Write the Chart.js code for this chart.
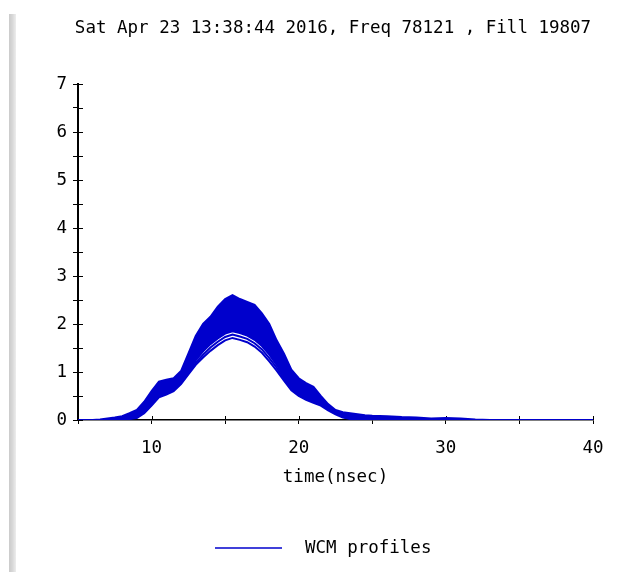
<!DOCTYPE html>
<html>
<head>
<meta charset="utf-8">
<script src="https://cdn.jsdelivr.net/npm/chart.js@4/dist/chart.umd.min.js"></script>
<style>
  html, body { margin: 0; padding: 0; background: #fff; }
  #wrap { position: relative; width: 644px; height: 572px; }
  #edge { position: absolute; left: 9px; top: 14px; width: 7px; height: 558px;
          background: linear-gradient(to right, #cbcbcb, #d6d6d6 45%, #ededed); }
  canvas { position: absolute; left: 0; top: 0; }
</style>
</head>
<body>
<div id="wrap"><div id="edge"></div><canvas id="c" width="644" height="572"></canvas></div>
<script>
// Sample times (ns) shared by all profiles
const timeNs = [5, 6, 6.5, 7, 7.5, 8, 8.5, 9, 9.5, 10,
  10.5, 11, 11.5, 12, 12.5, 13, 13.5, 14, 14.5, 15,
  15.5, 16, 16.5, 17, 17.5, 18, 18.5, 19, 19.5, 20,
  20.5, 21, 21.5, 22, 22.5, 23, 23.5, 24, 24.5, 25,
  26, 27, 28, 29, 30, 31, 32, 33, 34, 35,
  36, 37, 38, 39, 40];

// Highest bunch profile
const profileHigh = [0, 0, 0.01, 0.03, 0.05, 0.08, 0.14, 0.21, 0.38, 0.6,
  0.8, 0.84, 0.87, 1.02, 1.38, 1.75, 2.0, 2.15, 2.36, 2.52,
  2.6, 2.52, 2.46, 2.4, 2.22, 2.0, 1.66, 1.38, 1.05, 0.87,
  0.77, 0.69, 0.5, 0.33, 0.21, 0.16, 0.14, 0.12, 0.1, 0.09,
  0.08, 0.06, 0.05, 0.03, 0.04, 0.03, 0.01, 0, 0, 0,
  0, 0, 0, 0, 0];

// Lower edge of the dense group of profiles
const profileBulk = [0, 0, 0, 0, 0, 0.01, 0.05, 0.08, 0.18, 0.34,
  0.51, 0.57, 0.64, 0.79, 1.0, 1.24, 1.43, 1.58, 1.7, 1.8,
  1.85, 1.81, 1.76, 1.67, 1.54, 1.36, 1.15, 0.9, 0.66, 0.54,
  0.46, 0.4, 0.34, 0.24, 0.16, 0.09, 0.05, 0.03, 0.02, 0.01,
  0, 0, 0, 0, 0, 0, 0, 0, 0, 0,
  0, 0, 0, 0, 0];

// Two weaker bunches below the group
const profileLow1 = [0, 0, 0, 0, 0, 0, 0.03, 0.06, 0.16, 0.32,
  0.49, 0.55, 0.62, 0.77, 0.97, 1.19, 1.36, 1.51, 1.63, 1.73,
  1.78, 1.74, 1.69, 1.6, 1.47, 1.29, 1.09, 0.86, 0.64, 0.52,
  0.44, 0.38, 0.32, 0.22, 0.14, 0.07, 0.03, 0.02, 0.01, 0,
  0, 0, 0, 0, 0, 0, 0, 0, 0, 0,
  0, 0, 0, 0, 0];

const profileLow2 = [0, 0, 0, 0, 0, 0, 0.02, 0.04, 0.14, 0.3,
  0.47, 0.53, 0.6, 0.75, 0.95, 1.15, 1.3, 1.44, 1.56, 1.66,
  1.71, 1.67, 1.62, 1.53, 1.4, 1.22, 1.03, 0.82, 0.62, 0.5,
  0.42, 0.36, 0.3, 0.2, 0.12, 0.05, 0.02, 0.01, 0, 0,
  0, 0, 0, 0, 0, 0, 0, 0, 0, 0,
  0, 0, 0, 0, 0];

const titleText = 'Sat Apr 23 13:38:44 2016, Freq 78121 , Fill 19807';
const xTitle = 'time(nsec)';
const seriesName = 'WCM profiles';

const FONT = 'DejaVu Sans Mono';
const FSIZE = 17.5;
const BLUE = '#0000cc';

const pts = vals => vals.map((v, i) => ({ x: timeNs[i], y: v }));

// Tick marks that also reach into the plot area
const innerTicks = {
  id: 'innerTicks',
  beforeDatasetsDraw(chart) {
    const { ctx, chartArea, scales } = chart;
    ctx.save();
    ctx.strokeStyle = '#000';
    ctx.lineWidth = 1;
    ctx.beginPath();
    scales.y.ticks.forEach(t => {
      const py = Math.round(scales.y.getPixelForValue(t.value)) + 0.5;
      ctx.moveTo(chartArea.left, py);
      ctx.lineTo(chartArea.left + 5, py);
    });
    scales.x.ticks.forEach(t => {
      const px = Math.round(scales.x.getPixelForValue(t.value)) + 0.5;
      ctx.moveTo(px, chartArea.bottom);
      ctx.lineTo(px, chartArea.bottom - 4);
    });
    ctx.stroke();
    ctx.restore();
  }
};

// Single legend entry: a line sample followed by the series name
const lineLegend = {
  id: 'lineLegend',
  afterDraw(chart) {
    const { ctx } = chart;
    const ds = chart.data.datasets[0];
    ctx.save();
    ctx.font = FSIZE + 'px "' + FONT + '"';
    const sample = 67, gap = 23;
    const tw = ctx.measureText(ds.label).width;
    const x0 = Math.round(323 - (sample + gap + tw) / 2);
    const y = 548;
    ctx.strokeStyle = ds.borderColor;
    ctx.lineWidth = 1.5;
    ctx.beginPath();
    ctx.moveTo(x0, y);
    ctx.lineTo(x0 + sample, y);
    ctx.stroke();
    ctx.fillStyle = '#000';
    ctx.textBaseline = 'middle';
    ctx.fillText(ds.label, x0 + sample + gap, y);
    ctx.restore();
  }
};

const lineStyle = { borderColor: BLUE, borderWidth: 2, pointRadius: 0, tension: 0 };
const textFont = { family: FONT, size: FSIZE, weight: 'normal' };

new Chart(document.getElementById('c'), {
  type: 'line',
  data: {
    datasets: [
      { label: seriesName, data: pts(profileHigh), ...lineStyle, fill: '+1', backgroundColor: BLUE },
      { label: seriesName, data: pts(profileBulk), ...lineStyle, fill: false },
      { label: seriesName, data: pts(profileLow1), ...lineStyle, fill: false },
      { label: seriesName, data: pts(profileLow2), ...lineStyle, fill: false }
    ]
  },
  options: {
    responsive: false,
    animation: false,
    layout: { padding: { left: 22, right: 0, top: 0, bottom: 84 } },
    plugins: {
      legend: { display: false },
      tooltip: { enabled: false },
      title: {
        display: true,
        text: titleText,
        color: '#000',
        font: textFont,
        padding: { top: 18, bottom: 45 }
      }
    },
    scales: {
      x: {
        type: 'linear',
        min: 5, max: 40,
        grid: { drawOnChartArea: false, drawTicks: true, tickLength: 4, color: '#000' },
        border: { display: true, color: '#000', width: 1.5 },
        ticks: {
          stepSize: 5, autoSkip: false, maxRotation: 0, padding: 14,
          color: '#000', font: textFont,
          callback: v => (v % 10 === 0 ? String(v) : '')
        },
        title: {
          display: true, text: xTitle, color: '#000',
          font: textFont,
          padding: { top: 0, bottom: 0 }
        },
        afterFit(scale) { scale.height = 68; }
      },
      y: {
        min: 0, max: 7,
        grid: { drawOnChartArea: false, drawTicks: true, tickLength: 5, color: '#000' },
        border: { display: true, color: '#000', width: 2 },
        ticks: {
          stepSize: 0.5, autoSkip: false, padding: 6,
          color: '#000', font: textFont,
          callback: v => (Number.isInteger(v) ? String(v) : '')
        },
        afterFit(scale) { scale.width = 56; }
      },
      // empty margin on the right of the plot
      yMargin: {
        type: 'linear',
        position: 'right',
        min: 0, max: 7,
        grid: { display: false },
        border: { display: false },
        ticks: { display: false },
        afterFit(scale) { scale.width = 51; }
      }
    }
  },
  plugins: [innerTicks, lineLegend]
});
</script>
</body>
</html>
